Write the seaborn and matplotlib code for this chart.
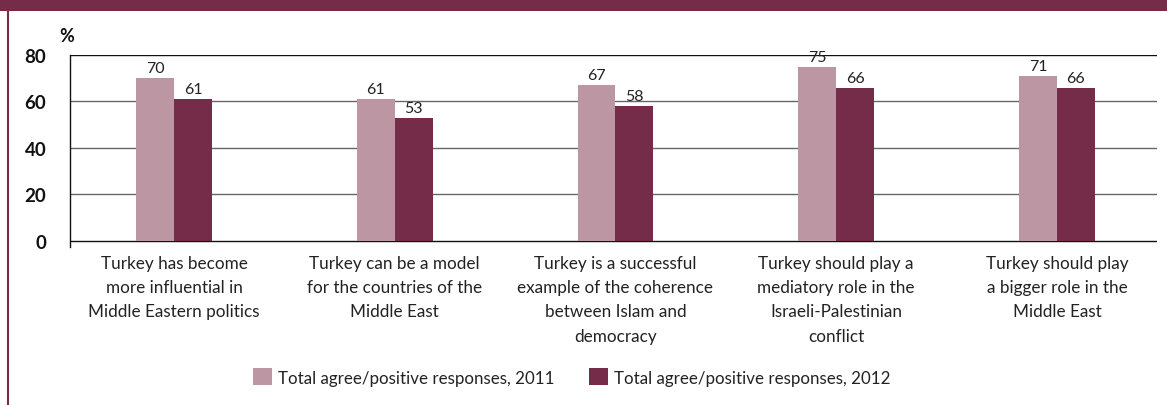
import matplotlib
matplotlib.use("Agg")
import matplotlib.pyplot as plt
from matplotlib.patches import Rectangle
from matplotlib.lines import Line2D
import seaborn as sns
import pandas as pd

# Survey statements and share of agreeing respondents (%)
categories = [
    "Turkey has become\nmore influential in\nMiddle Eastern politics",
    "Turkey can be a model\nfor the countries of the\nMiddle East",
    "Turkey is a successful\nexample of the coherence\nbetween Islam and\ndemocracy",
    "Turkey should play a\nmediatory role in the\nIsraeli-Palestinian\nconflict",
    "Turkey should play\na bigger role in the\nMiddle East",
]
values_2011 = [70, 61, 67, 75, 71]
values_2012 = [61, 53, 58, 66, 66]
series_names = [
    "Total agree/positive responses, 2011",
    "Total agree/positive responses, 2012",
]
y_ticks = [0, 20, 40, 60, 80]

LIGHT = "#BC96A2"
DARK = "#752C48"
FONT = "Lato"

df = pd.DataFrame({
    "statement": categories * 2,
    "series": [series_names[0]] * len(categories) + [series_names[1]] * len(categories),
    "value": values_2011 + values_2012,
})

sns.set_theme(style="white")
plt.rcParams["font.family"] = [FONT, "DejaVu Sans"]

fig = plt.figure(figsize=(11.67, 4.06), dpi=100)
ax = fig.add_axes([70 / 1167, (406 - 248) / 406, (1157 - 70) / 1167, (248 - 56) / 406])

sns.barplot(
    data=df, x="statement", y="value", hue="series",
    hue_order=series_names, order=categories,
    palette=[LIGHT, DARK], width=0.344, saturation=1,
    linewidth=0, ax=ax, legend=False,
)

for container in ax.containers:
    ax.bar_label(container, fmt="%d", padding=2, fontsize=11.5, color="#222222")

ax.set_xlim(-0.471, 4.453)
ax.set_ylim(-2.6, 80)
ax.set_yticks(y_ticks)
ax.set_yticklabels([str(v) for v in y_ticks], fontsize=13.5, fontweight="bold", color="#111111")
ax.set_xticks(range(len(categories)))
ax.set_xticklabels(categories, fontsize=12.3, color="#222222", linespacing=1.62, va="top")
ax.tick_params(axis="x", length=0, pad=6)
ax.tick_params(axis="y", length=8, width=1, color="#555555", direction="out", pad=9)
ax.set_xlabel("")
ax.set_ylabel("")

# Horizontal gridlines; the baseline and the top line are drawn darker
for v in y_ticks:
    col = "#111111" if v in (0, 80) else "#666666"
    ax.axhline(v, color=col, lw=1, zorder=0.5)

for side in ("top", "right", "bottom"):
    ax.spines[side].set_visible(False)
ax.spines["left"].set_color("#111111")
ax.spines["left"].set_linewidth(1)
ax.spines["left"].set_bounds(-2.6, 80)

fig.text(67 / 1167, 1 - 37 / 406, "%", fontsize=13, fontweight="bold", color="#111111",
         ha="center", va="center")

# Legend
handles = [Rectangle((0, 0), 1, 1, facecolor=c, edgecolor="none") for c in (LIGHT, DARK)]
fig.legend(handles, series_names, loc="center", bbox_to_anchor=(0.490, 1 - 378 / 406),
           ncol=2, frameon=False, fontsize=12.2, handlelength=1.15, handleheight=1.15,
           handletextpad=0.35, columnspacing=2.0, labelcolor="#222222")

# Header band and left rule
fig.patches.append(Rectangle((0, 1 - 12 / 406), 1, 12 / 406, transform=fig.transFigure,
                             facecolor=DARK, edgecolor="none", zorder=0))
fig.lines.append(Line2D([8 / 1167, 8 / 1167], [0, 1], transform=fig.transFigure,
                        color=DARK, lw=1.5))

fig.savefig("out.png", dpi=100, facecolor="white")
